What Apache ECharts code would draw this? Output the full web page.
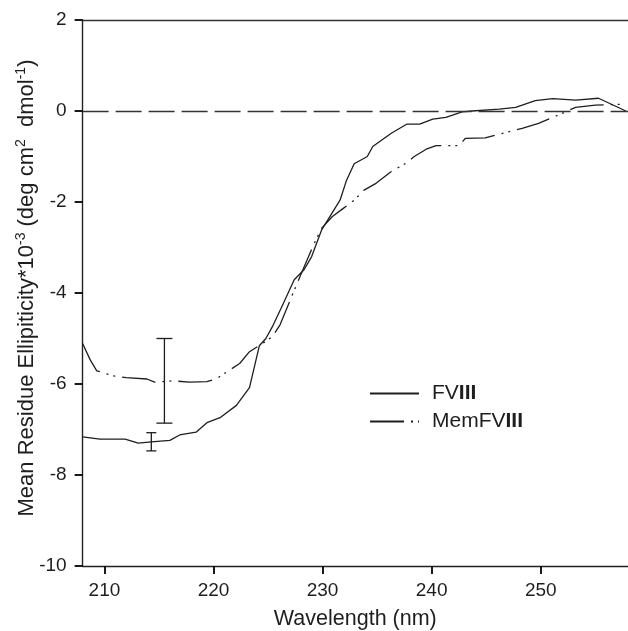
<!DOCTYPE html>
<html>
<head>
<meta charset="utf-8">
<script src="https://cdn.jsdelivr.net/npm/echarts@6/dist/echarts.min.js"></script>
<style>
html,body{margin:0;padding:0;background:#fff;}
#chart{width:628px;height:631px;}
</style>
</head>
<body>
<div id="chart"></div>
<script>
// ---- data ----
var seriesNames = ['FVIII', 'MemFVIII'];

var wavelengthFVIII = [208, 209.6, 211.9, 213.1, 214.3, 216.0, 216.9, 218.4, 219.4, 220.6, 222.1, 223.3, 224.2, 224.8, 225.4, 226.4, 227.4, 228.3, 229.0, 229.9, 231.6, 232.2, 232.9, 234.1, 234.6, 236.3, 237.7, 238.9, 240.1, 241.3, 242.8, 243.7, 246.2, 247.7, 249.5, 251.1, 253.2, 255.3, 257.8];
var ellipFVIII = [-7.16, -7.21, -7.21, -7.30, -7.27, -7.24, -7.12, -7.06, -6.85, -6.74, -6.47, -6.08, -5.16, -5.0, -4.74, -4.23, -3.71, -3.49, -3.20, -2.62, -1.96, -1.52, -1.16, -1.0, -0.78, -0.49, -0.29, -0.29, -0.18, -0.14, -0.02, 0.0, 0.04, 0.08, 0.23, 0.27, 0.24, 0.28, 0.0];

var wavelengthMem = [208, 208.7, 209.3, 210.8, 212.0, 213.9, 214.6, 216.3, 217.8, 219.4, 220.3, 221.5, 222.4, 223.3, 224.5, 225.4, 226.1, 227.3, 228.0, 229.1, 229.9, 230.9, 231.9, 232.9, 233.8, 234.9, 236.3, 237.7, 238.4, 239.5, 240.4, 242.5, 243.1, 244.9, 246.5, 248.3, 249.8, 251.4, 253.2, 255.0, 257.8];
var ellipMem = [-5.11, -5.47, -5.71, -5.82, -5.86, -5.89, -5.96, -5.93, -5.96, -5.95, -5.88, -5.69, -5.55, -5.29, -5.11, -4.96, -4.70, -4.00, -3.60, -2.98, -2.58, -2.32, -2.14, -1.96, -1.74, -1.59, -1.33, -1.14, -1.0, -0.84, -0.76, -0.76, -0.60, -0.59, -0.49, -0.38, -0.27, -0.11, 0.08, 0.13, 0.15];

// error bars: [wavelength, low, high]
var errFVIII = [[214.3, -7.47, -7.07]];
var errMem = [[215.5, -6.86, -5.0]];

var xTicks = [210, 220, 230, 240, 250];
var yMin = -10, yMax = 2, yStep = 2;
var xMin = 208, xMax = 258;

// ---- build chart ----
function zip(xs, ys) { return xs.map(function (x, i) { return [x, ys[i]]; }); }

var ink = '#1e1e1e';
var font = "'Liberation Sans', Arial, Helvetica, sans-serif";

function errorRenderer(capHalf) {
  return function (params, api) {
    var x = api.value(0);
    var lo = api.coord([x, api.value(1)]);
    var hi = api.coord([x, api.value(2)]);
    var st = { stroke: ink, lineWidth: 1.3 };
    return {
      type: 'group',
      children: [
        { type: 'line', shape: { x1: lo[0], y1: lo[1], x2: hi[0], y2: hi[1] }, style: st },
        { type: 'line', shape: { x1: lo[0] - capHalf, y1: lo[1], x2: lo[0] + capHalf, y2: lo[1] }, style: st },
        { type: 'line', shape: { x1: hi[0] - capHalf, y1: hi[1], x2: hi[0] + capHalf, y2: hi[1] }, style: st }
      ]
    };
  };
}

var chart = echarts.init(document.getElementById('chart'), null, { renderer: 'canvas' });
chart.setOption({
  animation: false,
  backgroundColor: '#fff',
  textStyle: { fontFamily: font },
  grid: { left: 82.6, right: 0, top: 20, bottom: 65, containLabel: false, outerBoundsMode: 'none' },
  legend: {
    left: 364, top: 378,
    orient: 'vertical',
    itemWidth: 49, itemHeight: 14, itemGap: 7,
    data: seriesNames,
    itemStyle: { opacity: 0 },
    formatter: function (n) { return n.replace('III', '{b|III}'); },
    textStyle: {
      fontSize: 21, color: ink, fontFamily: font, lineHeight: 21,
      padding: [0, 0, 0, 8],
      rich: { b: { fontSize: 21, fontWeight: 'bold', color: ink, fontFamily: font, lineHeight: 21 } }
    }
  },
  xAxis: [{
    type: 'value', min: xMin, max: xMax,
    name: 'Wavelength (nm)', nameLocation: 'middle', nameGap: 42, nameMoveOverlap: false,
    nameTextStyle: { fontSize: 21.5, color: ink, fontFamily: font },
    axisLine: { show: true, onZero: false, lineStyle: { color: '#222', width: 1.4 } },
    axisTick: { show: true, inside: false, length: 8, customValues: xTicks, lineStyle: { color: '#000', width: 1.8, opacity: 1 } },
    axisLabel: { fontSize: 19, color: ink, margin: 15, customValues: xTicks },
    splitLine: { show: false }
  }, {
    type: 'value', min: xMin, max: xMax, position: 'top',
    axisLine: { show: true, onZero: false, lineStyle: { color: '#333', width: 1.3 } },
    axisTick: { show: false }, axisLabel: { show: false }, splitLine: { show: false }
  }],
  yAxis: {
    type: 'value', min: yMin, max: yMax, interval: yStep,
    name: 'Mean Residue Ellipiticity*10{sup|-3} (deg cm{sup|2}  dmol{sup|-1})',
    nameLocation: 'middle', nameGap: 43, nameRotate: 90, nameMoveOverlap: false,
    nameTextStyle: {
      fontSize: 22, color: ink, fontFamily: font, lineHeight: 25,
      padding: [0, 0, 0, 10],
      rich: { sup: { fontSize: 14, color: ink, fontFamily: font, verticalAlign: 'top', lineHeight: 13 } }
    },
    axisLine: { show: true, onZero: false, lineStyle: { color: '#222', width: 1.4 } },
    axisTick: { show: true, inside: false, length: 8, lineStyle: { color: '#000', width: 1.8, opacity: 1 } },
    axisLabel: { fontSize: 19, color: ink, margin: 16 },
    splitLine: { show: false }
  },
  series: [{
    name: seriesNames[0], type: 'line', data: zip(wavelengthFVIII, ellipFVIII),
    showSymbol: false, symbol: 'none', smooth: false,
    lineStyle: { color: ink, width: 1.3, type: 'solid' },
    itemStyle: { color: ink },
    markLine: {
      silent: true, symbol: ['none', 'none'], label: { show: false },
      lineStyle: { color: '#333', width: 1.3, type: [26, 7] },
      data: [{ yAxis: 0 }]
    },
    z: 3
  }, {
    name: seriesNames[1], type: 'line', data: zip(wavelengthMem, ellipMem),
    showSymbol: false, symbol: 'none', smooth: false,
    lineStyle: { color: ink, width: 1.3, type: [34, 7, 2, 5, 2, 7] },
    itemStyle: { color: ink },
    z: 3
  }, {
    type: 'custom', name: 'errFVIII', data: errFVIII, renderItem: errorRenderer(5), z: 4, silent: true
  }, {
    type: 'custom', name: 'errMem', data: errMem, renderItem: errorRenderer(8), z: 4, silent: true
  }]
});
</script>
</body>
</html>
